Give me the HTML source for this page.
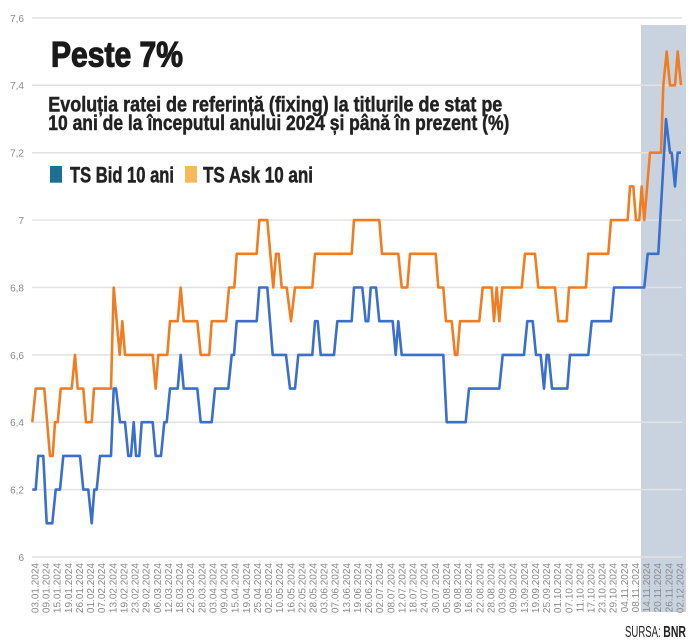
<!DOCTYPE html>
<html>
<head>
<meta charset="utf-8">
<style>
html,body{margin:0;padding:0;background:#fff;}
svg{display:block;}
</style>
</head>
<body>
<svg width="699" height="640" viewBox="0 0 699 640" xmlns="http://www.w3.org/2000/svg">
<rect x="0" y="0" width="699" height="640" fill="#ffffff"/>
<!-- shaded region -->
<rect x="641" y="25" width="45" height="587" fill="#c9d3e0"/>
<!-- gridlines -->
<g stroke="#e2e2e2" stroke-width="1.5">
<line x1="32" y1="18" x2="682" y2="18"/>
<line x1="32" y1="85.3" x2="682" y2="85.3"/>
<line x1="32" y1="152.7" x2="682" y2="152.7"/>
<line x1="32" y1="220.1" x2="682" y2="220.1"/>
<line x1="32" y1="287.5" x2="682" y2="287.5"/>
<line x1="32" y1="354.9" x2="682" y2="354.9"/>
<line x1="32" y1="422.2" x2="682" y2="422.2"/>
<line x1="32" y1="489.6" x2="682" y2="489.6"/>
<line x1="32" y1="557" x2="682" y2="557"/>
</g>
<!-- y labels -->
<g font-family="Liberation Sans, sans-serif" font-size="10" fill="#8a8a8a" text-anchor="end">
<text x="24" y="22">7,6</text>
<text x="24" y="89">7,4</text>
<text x="24" y="156.5">7,2</text>
<text x="24" y="224">7</text>
<text x="24" y="291.5">6,8</text>
<text x="24" y="359">6,6</text>
<text x="24" y="426">6,4</text>
<text x="24" y="493.5">6,2</text>
<text x="24" y="561">6</text>
</g>
<!-- title -->
<text x="51" y="66.7" font-family="Liberation Sans, sans-serif" font-weight="bold" font-size="35" fill="#1a1a1a" stroke="#1a1a1a" stroke-width="1.2" textLength="132" lengthAdjust="spacingAndGlyphs">Peste 7%</text>
<text x="48.3" y="111.7" font-family="Liberation Sans Narrow, Liberation Sans, sans-serif" font-weight="bold" font-size="21" fill="#222" stroke="#222" stroke-width="0.5" textLength="454" lengthAdjust="spacingAndGlyphs">Evoluția ratei de referință (fixing) la titlurile de stat pe</text>
<text x="48.3" y="130" font-family="Liberation Sans Narrow, Liberation Sans, sans-serif" font-weight="bold" font-size="21" fill="#222" stroke="#222" stroke-width="0.5" textLength="461" lengthAdjust="spacingAndGlyphs">10 ani de la începutul anului 2024 și până în prezent (%)</text>
<!-- legend -->
<rect x="50" y="166" width="12" height="16.7" fill="#1f6e96"/>
<text x="70" y="182.7" font-family="Liberation Sans Narrow, Liberation Sans, sans-serif" font-weight="bold" font-size="22" fill="#222" stroke="#222" stroke-width="0.5" textLength="104" lengthAdjust="spacingAndGlyphs">TS Bid 10 ani</text>
<rect x="185" y="166" width="12" height="16.7" fill="#f7b95a"/>
<text x="203" y="182.7" font-family="Liberation Sans Narrow, Liberation Sans, sans-serif" font-weight="bold" font-size="22" fill="#222" stroke="#222" stroke-width="0.5" textLength="110" lengthAdjust="spacingAndGlyphs">TS Ask 10 ani</text>
<!-- series -->
<polyline fill="none" stroke="#f07d22" stroke-width="2.6" stroke-linejoin="round" points="32.3,422.2 35.7,388.6 44.3,388.6 50,455.9 52.7,455.9 55,422.2 57.7,422.2 60.7,388.6 71.7,388.6 75,354.9 77.7,388.6 83.3,388.6 86,422.2 91.7,422.2 94,388.6 111,388.6 113.7,287.5 119.7,354.9 122.3,321.2 125,354.9 152.7,354.9 155.7,388.6 158.3,354.9 167.3,354.9 170,321.2 177.7,321.2 180.7,287.5 183.7,321.2 197.3,321.2 200.7,354.9 209.3,354.9 211.7,321.2 226,321.2 229,287.5 234.3,287.5 236.7,253.8 256.7,253.8 259.3,220.1 267.3,220.1 273.3,287.5 276,253.8 278.7,253.8 281.7,287.5 286.7,287.5 291,321.2 295,287.5 312.3,287.5 315,253.8 351.7,253.8 354,220.1 379.3,220.1 382,253.8 398.3,253.8 401.7,287.5 407.3,287.5 410,253.8 435.7,253.8 438.3,287.5 443.3,287.5 446,321.2 451.7,321.2 455,354.9 457.3,354.9 460,321.2 479.3,321.2 482.7,287.5 491.7,287.5 494,321.2 496.7,287.5 499.3,321.2 502.3,287.5 521.7,287.5 525,253.8 535,253.8 538.3,287.5 555,287.5 558.3,321.2 566.7,321.2 569,287.5 586,287.5 588.3,253.8 608.3,253.8 611,220.1 627.7,220.1 630,186.4 633.3,186.4 636,220.1 639.3,220.1 641.7,186.4 644.3,220.1 650,152.7 661,152.7 663.3,85.3 666.7,51.6 670,85.3 675,85.3 677.7,51.6 681,85.3"/>
<polyline fill="none" stroke="#3a6fcc" stroke-width="2.6" stroke-linejoin="round" points="32.3,489.6 35.7,489.6 38.3,455.9 43.3,455.9 46.7,523.3 52.3,523.3 55.7,489.6 60,489.6 63.3,455.9 80,455.9 83.3,489.6 88.3,489.6 91.7,523.3 94.3,489.6 96.7,489.6 100,455.9 111,455.9 113.7,388.6 116,388.6 120,422.2 125,422.2 128.3,455.9 131,455.9 133.7,422.2 136,455.9 139.3,455.9 141.7,422.2 152.7,422.2 155.7,455.9 161,455.9 164.3,422.2 166.7,422.2 170,388.6 177.7,388.6 180.7,354.9 183.7,388.6 197.3,388.6 200.7,422.2 211.7,422.2 215,388.6 228.3,388.6 231.7,354.9 234,354.9 236.7,321.2 256.7,321.2 259.3,287.5 267.3,287.5 272.7,354.9 286,354.9 290,388.6 295,388.6 298.3,354.9 312.3,354.9 315,321.2 317.7,321.2 320.7,354.9 334,354.9 337.3,321.2 351.7,321.2 354,287.5 362.3,287.5 365.7,321.2 368.3,321.2 370.7,287.5 376,287.5 379.3,321.2 392.7,321.2 395.7,354.9 398.3,321.2 401.7,354.9 443.3,354.9 446.7,422.2 465.7,422.2 469,388.6 499.3,388.6 502.7,354.9 524,354.9 527.3,321.2 532.7,321.2 536,354.9 540.7,354.9 544,388.6 546.7,354.9 548.7,354.9 552,388.6 567.3,388.6 570,354.9 588.3,354.9 591.7,321.2 611,321.2 614,287.5 644.3,287.5 647.7,253.8 658.3,253.8 666,119 670,152.7 671.7,152.7 675,186.4 677.7,152.7 681,152.7"/>
<!-- x labels -->
<g font-family="Liberation Sans, sans-serif" font-size="10" fill="#8a8a8a" text-anchor="end">
<text transform="translate(38.5,563) rotate(-90)">03.01.2024</text>
<text transform="translate(49.6,563) rotate(-90)">09.01.2024</text>
<text transform="translate(60.7,563) rotate(-90)">15.01.2024</text>
<text transform="translate(71.9,563) rotate(-90)">19.01.2024</text>
<text transform="translate(83,563) rotate(-90)">26.01.2024</text>
<text transform="translate(94.1,563) rotate(-90)">01.02.2024</text>
<text transform="translate(105.2,563) rotate(-90)">07.02.2024</text>
<text transform="translate(116.3,563) rotate(-90)">13.02.2024</text>
<text transform="translate(127.5,563) rotate(-90)">19.02.2024</text>
<text transform="translate(138.6,563) rotate(-90)">23.02.2024</text>
<text transform="translate(149.7,563) rotate(-90)">29.02.2024</text>
<text transform="translate(160.8,563) rotate(-90)">06.03.2024</text>
<text transform="translate(171.9,563) rotate(-90)">12.03.2024</text>
<text transform="translate(183.1,563) rotate(-90)">18.03.2024</text>
<text transform="translate(194.2,563) rotate(-90)">22.03.2024</text>
<text transform="translate(205.3,563) rotate(-90)">28.03.2024</text>
<text transform="translate(216.4,563) rotate(-90)">03.04.2024</text>
<text transform="translate(227.5,563) rotate(-90)">09.04.2024</text>
<text transform="translate(238.7,563) rotate(-90)">15.04.2024</text>
<text transform="translate(249.8,563) rotate(-90)">19.04.2024</text>
<text transform="translate(260.9,563) rotate(-90)">25.04.2024</text>
<text transform="translate(272,563) rotate(-90)">02.05.2024</text>
<text transform="translate(283.1,563) rotate(-90)">10.05.2024</text>
<text transform="translate(294.3,563) rotate(-90)">16.05.2024</text>
<text transform="translate(305.4,563) rotate(-90)">22.05.2024</text>
<text transform="translate(316.5,563) rotate(-90)">28.05.2024</text>
<text transform="translate(327.6,563) rotate(-90)">03.06.2024</text>
<text transform="translate(338.7,563) rotate(-90)">07.06.2024</text>
<text transform="translate(349.9,563) rotate(-90)">13.06.2024</text>
<text transform="translate(361,563) rotate(-90)">19.06.2024</text>
<text transform="translate(372.1,563) rotate(-90)">26.06.2024</text>
<text transform="translate(383.2,563) rotate(-90)">02.07.2024</text>
<text transform="translate(394.3,563) rotate(-90)">08.07.2024</text>
<text transform="translate(405.5,563) rotate(-90)">12.07.2024</text>
<text transform="translate(416.6,563) rotate(-90)">18.07.2024</text>
<text transform="translate(427.7,563) rotate(-90)">24.07.2024</text>
<text transform="translate(438.8,563) rotate(-90)">30.07.2024</text>
<text transform="translate(449.9,563) rotate(-90)">05.08.2024</text>
<text transform="translate(461.1,563) rotate(-90)">09.08.2024</text>
<text transform="translate(472.2,563) rotate(-90)">16.08.2024</text>
<text transform="translate(483.3,563) rotate(-90)">22.08.2024</text>
<text transform="translate(494.4,563) rotate(-90)">28.08.2024</text>
<text transform="translate(505.5,563) rotate(-90)">03.09.2024</text>
<text transform="translate(516.7,563) rotate(-90)">09.09.2024</text>
<text transform="translate(527.8,563) rotate(-90)">13.09.2024</text>
<text transform="translate(538.9,563) rotate(-90)">19.09.2024</text>
<text transform="translate(550,563) rotate(-90)">25.09.2024</text>
<text transform="translate(561.1,563) rotate(-90)">01.10.2024</text>
<text transform="translate(572.3,563) rotate(-90)">07.10.2024</text>
<text transform="translate(583.4,563) rotate(-90)">11.10.2024</text>
<text transform="translate(594.5,563) rotate(-90)">17.10.2024</text>
<text transform="translate(605.6,563) rotate(-90)">23.10.2024</text>
<text transform="translate(616.7,563) rotate(-90)">29.10.2024</text>
<text transform="translate(627.9,563) rotate(-90)">04.11.2024</text>
<text transform="translate(639,563) rotate(-90)">08.11.2024</text>
<text transform="translate(650.1,563) rotate(-90)">14.11.2024</text>
<text transform="translate(661.2,563) rotate(-90)">20.11.2024</text>
<text transform="translate(672.3,563) rotate(-90)">26.11.2024</text>
<text transform="translate(683.5,563) rotate(-90)">02.12.2024</text>
</g>
<!-- source -->
<text x="625" y="637" font-family="Liberation Sans Narrow, Liberation Sans, sans-serif" font-size="16" fill="#222" textLength="35.7" lengthAdjust="spacingAndGlyphs">SURSA:</text>
<text x="663.3" y="637" font-family="Liberation Sans Narrow, Liberation Sans, sans-serif" font-weight="bold" font-size="16" fill="#222" textLength="22.7" lengthAdjust="spacingAndGlyphs">BNR</text>
</svg>
</body>
</html>
